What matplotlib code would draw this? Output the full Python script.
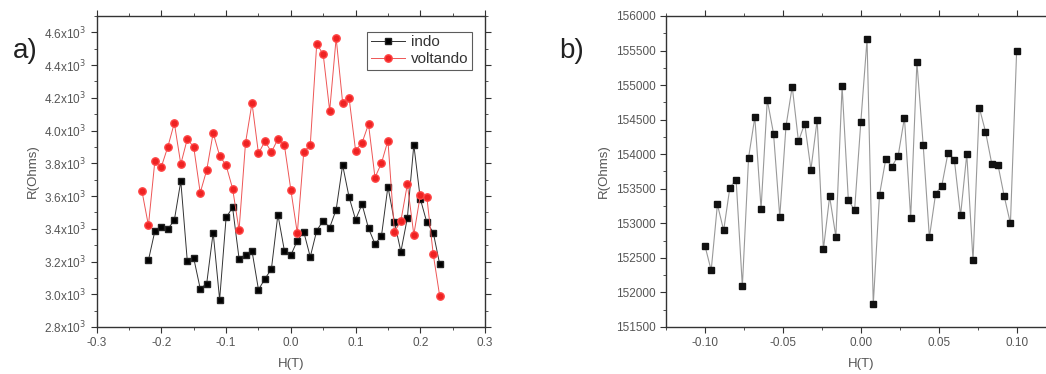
import matplotlib
matplotlib.use('Agg')
import matplotlib.pyplot as plt
from matplotlib.ticker import MultipleLocator, FuncFormatter

plt.rcParams['font.family'] = ['Liberation Sans', 'DejaVu Sans']

# panel a) data: field (T) and resistance (Ohms)
h_indo = [-0.22, -0.21, -0.20, -0.19, -0.18, -0.17, -0.16, -0.15, -0.14, -0.13,
          -0.12, -0.11, -0.10, -0.09, -0.08, -0.07, -0.06, -0.05, -0.04, -0.03,
          -0.02, -0.01, 0.00, 0.01, 0.02, 0.03, 0.04, 0.05, 0.06, 0.07,
          0.08, 0.09, 0.10, 0.11, 0.12, 0.13, 0.14, 0.15, 0.16, 0.17,
          0.18, 0.19, 0.20, 0.21, 0.22, 0.23]
r_indo = [3208, 3387, 3408, 3399, 3452, 3691, 3204, 3220, 3034, 3065,
          3377, 2967, 3469, 3530, 3218, 3242, 3265, 3028, 3094, 3155,
          3487, 3267, 3238, 3328, 3381, 3228, 3389, 3450, 3407, 3517,
          3789, 3593, 3456, 3550, 3403, 3307, 3356, 3658, 3444, 3260,
          3466, 3913, 3583, 3440, 3377, 3183]

h_volt = [-0.23, -0.22, -0.21, -0.20, -0.19, -0.18, -0.17, -0.16, -0.15, -0.14,
          -0.13, -0.12, -0.11, -0.10, -0.09, -0.08, -0.07, -0.06, -0.05, -0.04,
          -0.03, -0.02, -0.01, 0.00, 0.01, 0.02, 0.03, 0.04, 0.05, 0.06,
          0.07, 0.08, 0.09, 0.10, 0.11, 0.12, 0.13, 0.14, 0.15, 0.16,
          0.17, 0.18, 0.19, 0.20, 0.21, 0.22, 0.23]
r_volt = [3630, 3420, 3817, 3779, 3901, 4046, 3795, 3948, 3899, 3620,
          3758, 3985, 3846, 3787, 3646, 3391, 3925, 4168, 3860, 3935,
          3868, 3948, 3911, 3638, 3373, 3870, 3911, 4530, 4465, 4121,
          4565, 4171, 4198, 3878, 3925, 4039, 3713, 3801, 3939, 3381,
          3448, 3672, 3364, 3605, 3597, 3244, 2988]

# panel b) data
h_b = [-0.100, -0.096, -0.092, -0.088, -0.084, -0.080, -0.076, -0.072, -0.068, -0.064,
       -0.060, -0.056, -0.052, -0.048, -0.044, -0.040, -0.036, -0.032, -0.028, -0.024,
       -0.020, -0.016, -0.012, -0.008, -0.004, 0.000, 0.004, 0.008, 0.012, 0.016,
       0.020, 0.024, 0.028, 0.032, 0.036, 0.040, 0.044, 0.048, 0.052, 0.056,
       0.060, 0.064, 0.068, 0.072, 0.076, 0.080, 0.084, 0.088, 0.092, 0.096,
       0.100]
r_b = [152675, 152319, 153273, 152897, 153518, 153629, 152088, 153952, 154535, 153210,
       154785, 154299, 153094, 154405, 154978, 154188, 154443, 153778, 154496, 152622,
       153388, 152805, 154983, 153340, 153186, 154462, 155662, 151828, 153412, 153928,
       153822, 153981, 154530, 153080, 155334, 154140, 152796, 153427, 153547, 154024,
       153923, 153114, 154000, 152463, 154675, 154328, 153865, 153846, 153393, 152998,
       155499]

txt = '#555555'
spine = '#333333'


def style_axes(ax):
    for s in ax.spines.values():
        s.set_color(spine)
        s.set_linewidth(1.0)
    ax.tick_params(which='both', direction='out', top=True, right=True,
                   colors=spine, labelcolor=txt, labelsize=8.5)
    ax.tick_params(which='major', length=4)
    ax.tick_params(which='minor', length=2.5)


fig = plt.figure(figsize=(10.46, 3.74), dpi=100)

# a)
ax1 = fig.add_axes([0.0924, 0.1257, 0.3713, 0.8316])
ax1.plot(h_indo, r_indo, color='#333333', lw=0.7, marker='s', ms=4.5,
         mfc='black', mec='#222222', label='indo')
ax1.plot(h_volt, r_volt, color='#ee5555', lw=0.7, marker='o', ms=5.3,
         mfc='#ee2222', mec='#ff4444', label='voltando')
ax1.set_xlim(-0.3, 0.3)
ax1.set_ylim(2800, 4700)
ax1.xaxis.set_major_locator(MultipleLocator(0.1))
ax1.xaxis.set_minor_locator(MultipleLocator(0.05))
ax1.yaxis.set_major_locator(MultipleLocator(200))
ax1.yaxis.set_minor_locator(MultipleLocator(100))
ax1.xaxis.set_major_formatter(FuncFormatter(lambda v, p: f'{v:.1f}'))
ax1.yaxis.set_major_formatter(FuncFormatter(lambda v, p: f'{v/1000:.1f}x10$^3$'))
style_axes(ax1)
ax1.set_xlabel('H(T)', color=txt, fontsize=9.5, labelpad=6)
ax1.set_ylabel('R(Ohms)', color=txt, fontsize=9.5, labelpad=4)
leg = ax1.legend(loc='upper right', fontsize=11, frameon=True, fancybox=False,
                 edgecolor='#333333', handlelength=2.2, handletextpad=0.4,
                 borderpad=0.25, labelspacing=0.2, borderaxespad=0.0,
                 bbox_to_anchor=(0.967, 0.95))
leg.get_frame().set_linewidth(0.8)
for t in leg.get_texts():
    t.set_color('#333333')
fig.text(0.012, 0.845, 'a)', fontsize=20, color='#222222')

# b)
ax2 = fig.add_axes([0.6367, 0.1257, 0.3725, 0.8316])
ax2.plot(h_b, r_b, color='#999999', lw=0.8, marker='s', ms=4,
         mfc='#111111', mec='#111111')
ax2.set_xlim(-0.125, 0.125)
ax2.set_ylim(151500, 156000)
ax2.xaxis.set_major_locator(MultipleLocator(0.05))
ax2.xaxis.set_minor_locator(MultipleLocator(0.025))
ax2.yaxis.set_major_locator(MultipleLocator(500))
ax2.yaxis.set_minor_locator(MultipleLocator(250))
ax2.xaxis.set_major_formatter(FuncFormatter(lambda v, p: f'{v:.2f}'))
ax2.yaxis.set_major_formatter(FuncFormatter(lambda v, p: f'{v:.0f}'))
style_axes(ax2)
ax2.set_xlabel('H(T)', color=txt, fontsize=9.5, labelpad=6)
ax2.set_ylabel('R(Ohms)', color=txt, fontsize=9.5, labelpad=4)
fig.text(0.535, 0.845, 'b)', fontsize=20, color='#222222')

fig.savefig('out.png', dpi=100)
